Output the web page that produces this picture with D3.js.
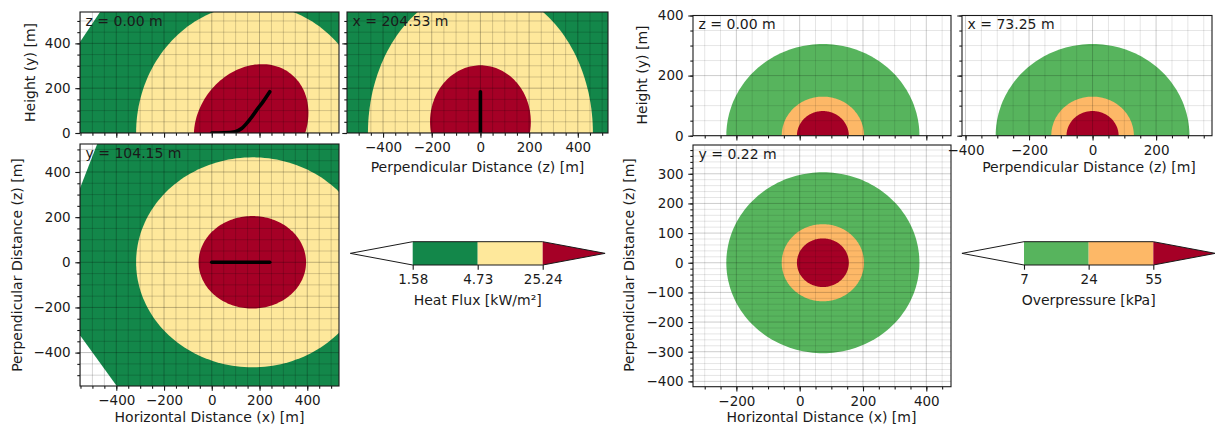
<!DOCTYPE html>
<html>
<head>
<meta charset="utf-8">
<script src="https://cdn.jsdelivr.net/npm/d3@7"></script>
<style>
  body { margin: 0; background: #fff; }
  text { font-family: "DejaVu Sans", sans-serif; }
</style>
</head>
<body>
<svg></svg>
<script>
// ---- data (metres) ----
// jet flame centreline
var trajX = [0, 50, 98, 125, 146, 168, 188, 215, 243];
var trajY = [0, 1, 6, 20, 43, 72, 102, 140, 184];
var trajZ = [0, 0, 0, 0, 0, 0, 0, 0, 0];

// heat flux contour levels and colours
var fluxLevelLabels = ["1.58", "4.73", "25.24"];
var fluxColors = ["#13874a", "#fee89b", "#a50026"];

// heat flux zones per slice: ellipses as [cx, cy, rx, ry, rotation deg]
// slice z = 0.00 m  (x, y)
var fluxSideOuter = [[-552, 406], [-468, 540], [533, 540], [533, 0], [-552, 0]];
var fluxSideMid = [175, 0, 492, 574, 0];
var fluxSideInner = [165, 40, 280, 225, 60];
// slice x = 204.53 m (z, y)
var fluxFrontOuter = [[-548, 0], [-548, 540], [524, 540], [524, 0]];
var fluxFrontMid = [0, 0, 462, 650, 0];
var fluxFrontInner = [0, 50, 207, 252, 0];
// slice y = 104.15 m (x, z)
var fluxTopOuter = [[-552, 328], [-480, 524], [533, 524], [533, -548], [-398, -548], [-552, -323]];
var fluxTopMid = [171, 0, 488, 465, 0];
var fluxTopInner = [170, 0, 225, 205, 0];

// overpressure contours: spheres around the blast centre
var pressLevelLabels = ["7", "24", "55"];
var pressColors = ["#57b45d", "#fdb867", "#a50026"];
var pressCentreX = 73.25;
var pressRadii = [305, 130, 82];

// major tick labels
var fluxTicks = [-400, -200, 0, 200, 400];
var heightTicks = [0, 200, 400];
var pressXTicks = [-400, -200, 0, 200, 400];
var pressZTicks = [-400, -300, -200, -100, 0, 100, 200, 300];

// ---- drawing ----
var svg = d3.select("svg").attr("width", 1215).attr("height", 430);
var ink = "#1a1a1a";

function makePanel(p) {
    var x = d3.scaleLinear().domain(p.xd).range([p.left, p.right]);
    var y = d3.scaleLinear().domain(p.yd).range([p.bottom, p.top]);
    svg.append("clipPath").attr("id", "clip-" + p.name)
        .append("rect")
        .attr("x", p.left).attr("y", p.top)
        .attr("width", p.right - p.left).attr("height", p.bottom - p.top);
    var g = svg.append("g");
    var body = g.append("g").attr("clip-path", "url(#clip-" + p.name + ")");
    return {p: p, x: x, y: y, g: g, body: body};
}

function ellipsePath(pn, e) {
    var a = e[4] * Math.PI / 180;
    var pts = d3.range(0, 360, 2).map(function(t) {
        var r = t * Math.PI / 180;
        var u = e[2] * Math.cos(r), v = e[3] * Math.sin(r);
        return [pn.x(e[0] + u * Math.cos(a) - v * Math.sin(a)),
                pn.y(e[1] + u * Math.sin(a) + v * Math.cos(a))];
    });
    return d3.line()(pts) + "Z";
}

function polyPath(pn, pts) {
    return d3.line().x(function(d) { return pn.x(d[0]); }).y(function(d) { return pn.y(d[1]); })(pts) + "Z";
}

function multiples(d, step) {
    return d3.range(Math.ceil(d[0] / step) * step, d[1] + 1e-6, step);
}

function grid(pn, xStep, yStep, xMajor, yMajor, aMinor, aMajor) {
    var p = pn.p;
    var gg = pn.body.append("g");
    multiples(p.xd, xStep).forEach(function(v) {
        gg.append("line")
            .attr("x1", pn.x(v)).attr("x2", pn.x(v))
            .attr("y1", p.top).attr("y2", p.bottom)
            .attr("stroke", "#000")
            .attr("stroke-opacity", Math.abs(v % xMajor) < 1e-6 ? aMajor : aMinor)
            .attr("stroke-width", 1);
    });
    multiples(p.yd, yStep).forEach(function(v) {
        gg.append("line")
            .attr("y1", pn.y(v)).attr("y2", pn.y(v))
            .attr("x1", p.left).attr("x2", p.right)
            .attr("stroke", "#000")
            .attr("stroke-opacity", Math.abs(v % yMajor) < 1e-6 ? aMajor : aMinor)
            .attr("stroke-width", 1);
    });
}

function styleAxis(sel) {
    sel.select(".domain").remove();
    sel.selectAll("line").attr("stroke", ink).attr("stroke-width", 1.1);
    sel.selectAll("text").attr("fill", ink).attr("font-size", 13.5)
        .attr("font-family", "DejaVu Sans, sans-serif");
}

function axes(pn, o) {
    var p = pn.p;
    var inX = function(v) { return v >= p.xd[0] && v <= p.xd[1]; };
    var inY = function(v) { return v >= p.yd[0] && v <= p.yd[1]; };
    var fmt = d3.format("d");

    pn.g.append("g").attr("transform", "translate(0," + p.bottom + ")")
        .call(d3.axisBottom(pn.x).tickValues(multiples(p.xd, o.xMinor)).tickSize(2.7).tickFormat(""))
        .call(styleAxis);
    pn.g.append("g").attr("transform", "translate(0," + p.bottom + ")")
        .call(d3.axisBottom(pn.x).tickValues(o.xTicks.filter(inX))
            .tickSize(4.7).tickPadding(4.7).tickFormat(o.xLabels ? fmt : ""))
        .call(styleAxis);

    pn.g.append("g").attr("transform", "translate(" + p.left + ",0)")
        .call(d3.axisLeft(pn.y).tickValues(multiples(p.yd, o.yMinor)).tickSize(2.7).tickFormat(""))
        .call(styleAxis);
    pn.g.append("g").attr("transform", "translate(" + p.left + ",0)")
        .call(d3.axisLeft(pn.y).tickValues(o.yTicks.filter(inY))
            .tickSize(4.7).tickPadding(4.7).tickFormat(o.yLabels ? fmt : ""))
        .call(styleAxis);

    pn.g.append("rect")
        .attr("x", p.left).attr("y", p.top)
        .attr("width", p.right - p.left).attr("height", p.bottom - p.top)
        .attr("fill", "none").attr("stroke", ink).attr("stroke-width", 1.1);

    pn.g.append("text")
        .attr("x", p.left + 5.5).attr("y", p.top + 13.5)
        .attr("font-size", 14).attr("fill", ink)
        .text(o.tag);
}

function trajectory(pn, xs, ys) {
    var pts = xs.map(function(d, i) { return [d, ys[i]]; });
    pn.body.append("path")
        .datum(pts)
        .attr("fill", "none").attr("stroke", "#000").attr("stroke-width", 3.6)
        .attr("stroke-linecap", "round")
        .attr("d", d3.line()
            .x(function(d) { return pn.x(d[0]); })
            .y(function(d) { return pn.y(d[1]); })
            .curve(d3.curveMonotoneX));
}

function fluxPanel(pn, outer, mid, inner) {
    pn.body.append("path").attr("d", polyPath(pn, outer)).attr("fill", fluxColors[0]);
    pn.body.append("path").attr("d", ellipsePath(pn, mid)).attr("fill", fluxColors[1]);
    pn.body.append("path").attr("d", ellipsePath(pn, inner)).attr("fill", fluxColors[2]);
}

function pressPanel(pn, cx) {
    pressRadii.forEach(function(r, i) {
        pn.body.append("path").attr("d", ellipsePath(pn, [cx, 0, r, r, 0])).attr("fill", pressColors[i]);
    });
}

function axisTitle(x, y, label, rotate, size) {
    svg.append("text")
        .attr("transform", "translate(" + x + "," + y + ")" + (rotate ? " rotate(-90)" : ""))
        .attr("text-anchor", "middle")
        .attr("dy", rotate ? "0.35em" : 0)
        .attr("font-size", size).attr("fill", ink)
        .text(label);
}

function colorbar(c) {
    var n = c.labels.length;
    var s = d3.scaleLinear().domain([0, n - 1]).range([c.left, c.right]);
    var ext = 0.48 * (c.right - c.left);
    var ym = (c.top + c.bottom) / 2;
    var g = svg.append("g");
    g.append("path").attr("d", d3.line()([[c.left, c.top], [c.left - ext, ym], [c.left, c.bottom]]) + "Z")
        .attr("fill", "#fff");
    for (var i = 0; i < n - 1; i++) {
        g.append("rect").attr("x", s(i)).attr("y", c.top)
            .attr("width", s(i + 1) - s(i)).attr("height", c.bottom - c.top)
            .attr("fill", c.colors[i]);
    }
    g.append("path").attr("d", d3.line()([[c.right, c.top], [c.right + ext, ym], [c.right, c.bottom]]) + "Z")
        .attr("fill", c.colors[n - 1]);
    g.append("path")
        .attr("d", d3.line()([[c.left - ext, ym], [c.left, c.top], [c.right, c.top], [c.right + ext, ym],
            [c.right, c.bottom], [c.left, c.bottom]]) + "Z")
        .attr("fill", "none").attr("stroke", ink).attr("stroke-width", 1);
    g.append("g").attr("transform", "translate(0," + c.bottom + ")")
        .call(d3.axisBottom(s).tickValues(d3.range(n)).tickSize(4.7).tickPadding(4.7)
            .tickFormat(function(i) { return c.labels[i]; }))
        .call(styleAxis);
    g.append("text")
        .attr("x", (c.left + c.right) / 2).attr("y", c.bottom + 40)
        .attr("text-anchor", "middle").attr("font-size", 14).attr("fill", ink)
        .text(c.title);
}

// ---- heat flux figure ----
var P1 = makePanel({name: "p1", left: 80, right: 339, top: 12, bottom: 133, xd: [-552, 533], yd: [0, 540]});
var P2 = makePanel({name: "p2", left: 347, right: 608, top: 12, bottom: 133, xd: [-548, 524], yd: [0, 540]});
var P3 = makePanel({name: "p3", left: 80, right: 339, top: 144, bottom: 386, xd: [-552, 533], yd: [-548, 524]});

fluxPanel(P1, fluxSideOuter, fluxSideMid, fluxSideInner);
fluxPanel(P2, fluxFrontOuter, fluxFrontMid, fluxFrontInner);
fluxPanel(P3, fluxTopOuter, fluxTopMid, fluxTopInner);
[P1, P2, P3].forEach(function(pn) { grid(pn, 50, 50, 200, 200, 0.17, 0.26); });
trajectory(P1, trajX, trajY);
trajectory(P2, trajZ, trajY);
trajectory(P3, trajX, trajZ);

axes(P1, {xTicks: fluxTicks, yTicks: heightTicks, xMinor: 50, yMinor: 50, xLabels: false, yLabels: true, tag: "z = 0.00 m"});
axes(P2, {xTicks: fluxTicks, yTicks: heightTicks, xMinor: 50, yMinor: 50, xLabels: true, yLabels: false, tag: "x = 204.53 m"});
axes(P3, {xTicks: fluxTicks, yTicks: fluxTicks, xMinor: 50, yMinor: 50, xLabels: true, yLabels: true, tag: "y = 104.15 m"});

axisTitle(30, 72.5, "Height (y) [m]", true, 14);
axisTitle(17, 265, "Perpendicular Distance (z) [m]", true, 14);
axisTitle(209.5, 422, "Horizontal Distance (x) [m]", false, 14);
axisTitle(477.5, 172, "Perpendicular Distance (z) [m]", false, 14);

colorbar({left: 412.7, right: 542.7, top: 241.7, bottom: 265, labels: fluxLevelLabels, colors: fluxColors,
    title: "Heat Flux [kW/m²]"});

// ---- overpressure figure ----
var Q1 = makePanel({name: "q1", left: 693, right: 951, top: 15.5, bottom: 135.7, xd: [-337, 478], yd: [0, 400]});
var Q2 = makePanel({name: "q2", left: 962, right: 1212, top: 15.5, bottom: 135.7, xd: [-411, 376], yd: [0, 400]});
var Q3 = makePanel({name: "q3", left: 693, right: 951, top: 145, bottom: 386.7, xd: [-337, 478], yd: [-418, 397]});

pressPanel(Q1, pressCentreX);
pressPanel(Q2, 0);
pressPanel(Q3, pressCentreX);
grid(Q1, 50, 50, 200, 200, 0.1, 0.2);
grid(Q2, 50, 50, 200, 200, 0.1, 0.2);
grid(Q3, 50, 20, 200, 100, 0.1, 0.2);

axes(Q1, {xTicks: pressXTicks, yTicks: heightTicks, xMinor: 50, yMinor: 50, xLabels: false, yLabels: true, tag: "z = 0.00 m"});
axes(Q2, {xTicks: pressXTicks, yTicks: heightTicks, xMinor: 50, yMinor: 50, xLabels: true, yLabels: false, tag: "x = 73.25 m"});
axes(Q3, {xTicks: pressXTicks, yTicks: pressZTicks, xMinor: 50, yMinor: 20, xLabels: true, yLabels: true, tag: "y = 0.22 m"});

axisTitle(642, 75, "Height (y) [m]", true, 14);
axisTitle(629, 265, "Perpendicular Distance (z) [m]", true, 14);
axisTitle(821.5, 422, "Horizontal Distance (x) [m]", false, 14);
axisTitle(1089, 172, "Perpendicular Distance (z) [m]", false, 14);

colorbar({left: 1024, right: 1153.3, top: 241.7, bottom: 265, labels: pressLevelLabels, colors: pressColors,
    title: "Overpressure [kPa]"});
</script>
</body>
</html>
